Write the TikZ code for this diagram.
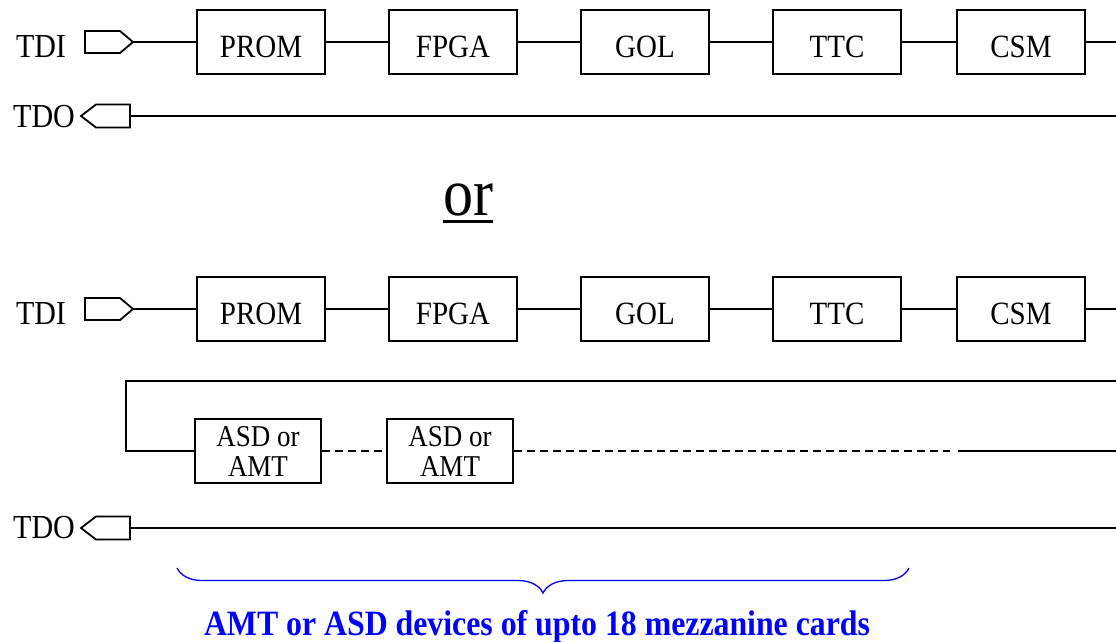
\documentclass[tikz,border=0pt]{standalone}
\usepackage{fontspec}
\usepackage{graphicx}
\setmainfont{Liberation Serif}
\usetikzlibrary{decorations.pathreplacing}
\newcommand\vtall[1]{\scalebox{1}[1.12]{#1}}
\begin{document}
\begin{tikzpicture}[x=1pt,y=-1pt,
  blk/.style={draw, line width=1.9pt, minimum width=128pt, minimum height=64pt, inner sep=0pt,
    text height=30pt, text depth=0pt, font=\fontsize{29}{32}\selectfont},
  devbox/.style={draw, line width=1.9pt, minimum width=126pt, minimum height=64pt, inner sep=0pt,
    align=center, font=\fontsize{27}{30}\selectfont},
  wire/.style={line width=1.8pt},
  dwire/.style={wire, dash pattern=on 8pt off 5pt},
  lbl/.style={inner sep=0pt, anchor=base, font=\fontsize{30}{32}\selectfont},
  port/.style={line width=1.8pt, line join=miter},
  note/.style={text=blue, anchor=base, inner sep=0pt, font=\bfseries\fontsize{31.8}{34}\selectfont},
  ortext/.style={anchor=base, inner sep=0pt, font=\fontsize{60}{60}\selectfont}
]
\useasboundingbox (0,0) rectangle (1116,641);

% ---------- upper chain ----------
\node[lbl] (tdiA) at (41,57) {\vtall{TDI}};
\draw[port] (85,31) -- (120,31) -- (133,42) -- (120,53) -- (85,53) -- cycle;
\coordinate (tdiAp) at (133,42);
\node[blk] (promA) at (261,42) {\vtall{PROM}};
\node[blk] (fpgaA) at (453,42) {\vtall{FPGA}};
\node[blk] (golA)  at (645,42) {\vtall{GOL}};
\node[blk] (ttcA)  at (837,42) {\vtall{TTC}};
\node[blk] (csmA)  at (1021,42) {\vtall{CSM}};
\coordinate (endA) at (1116,42);
\draw[wire] (tdiAp) -- (promA) -- (fpgaA) -- (golA) -- (ttcA) -- (csmA) -- (endA);

\node[lbl] (tdoA) at (44,127) {\vtall{TDO}};
\draw[port] (81,116) -- (96,104.5) -- (130,104.5) -- (130,127.5) -- (96,127.5) -- cycle;
\coordinate (tdoAp) at (130,116);
\coordinate (tdoAend) at (1116,116);
\draw[wire] (tdoAp) -- (tdoAend);

% ---------- or ----------
\node[ortext] (or) at (468,215) {\vtall{or}};
\draw[line width=3.2pt] ([yshift=-6.5pt]or.base west) -- ([yshift=-6.5pt]or.base east);

% ---------- lower chain ----------
\node[lbl] (tdiB) at (41,324) {\vtall{TDI}};
\draw[port] (85,298) -- (120,298) -- (133,309) -- (120,320) -- (85,320) -- cycle;
\coordinate (tdiBp) at (133,309);
\node[blk] (promB) at (261,309) {\vtall{PROM}};
\node[blk] (fpgaB) at (453,309) {\vtall{FPGA}};
\node[blk] (golB)  at (645,309) {\vtall{GOL}};
\node[blk] (ttcB)  at (837,309) {\vtall{TTC}};
\node[blk] (csmB)  at (1021,309) {\vtall{CSM}};
\coordinate (endB) at (1116,309);
\draw[wire] (tdiBp) -- (promB) -- (fpgaB) -- (golB) -- (ttcB) -- (csmB) -- (endB);

\coordinate (loopR) at (1116,381);
\coordinate (loopL) at (126,381);
\node[devbox] (asd1) at (258,451) {\vtall{ASD or}\\\vtall{AMT}};
\node[devbox] (asd2) at (450,451) {\vtall{ASD or}\\\vtall{AMT}};
\draw[wire] (loopR) -- (loopL) |- (asd1);
\draw[dwire] (asd1) -- (asd2);
\coordinate (dashEnd) at (950,451);
\coordinate (solidStart) at (958,451);
\coordinate (solidEnd) at (1116,451);
\draw[dwire] (asd2) -- (dashEnd);
\draw[wire] (solidStart) -- (solidEnd);

\node[lbl] (tdoB) at (44,538) {\vtall{TDO}};
\draw[port] (81,528) -- (96,516.5) -- (130,516.5) -- (130,539.5) -- (96,539.5) -- cycle;
\coordinate (tdoBp) at (130,528);
\coordinate (tdoBend) at (1116,528);
\draw[wire] (tdoBp) -- (tdoBend);

% ---------- brace ----------
\draw[blue, line width=1.3pt, decorate, decoration={brace, amplitude=25pt}] (909,568) -- (177,568);
\node[note] (cap) at (537,635) {\vtall{AMT or ASD devices of upto 18 mezzanine cards}};
\end{tikzpicture}
\end{document}
